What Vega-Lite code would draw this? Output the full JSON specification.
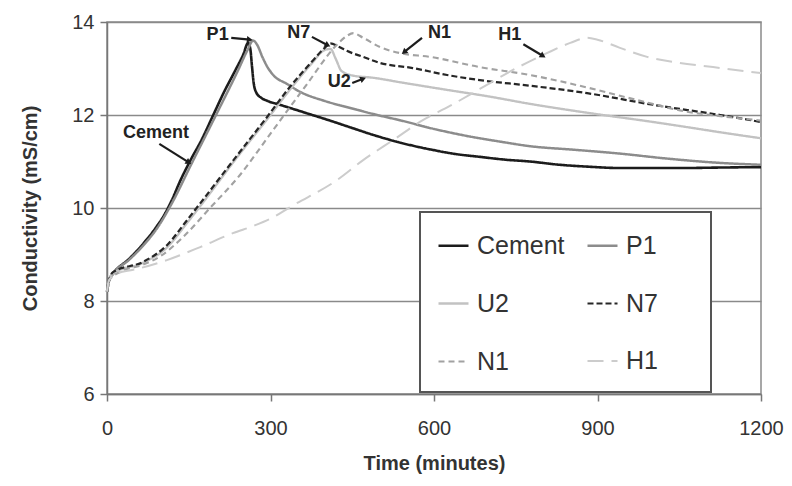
{
  "$schema": "https://vega.github.io/schema/vega-lite/v6.json",
  "width": 654,
  "height": 372,
  "autosize": {"type": "none"},
  "padding": {"left": 107, "top": 22, "right": 31, "bottom": 92},
  "background": "white",
  "config": {
    "font": "Liberation Sans",
    "view": {"stroke": "#8a8a8a", "strokeWidth": 1.5},
    "axis": {
      "labelFont": "Liberation Sans",
      "titleFont": "Liberation Sans",
      "labelFontSize": 20,
      "titleFontSize": 20,
      "labelColor": "#333",
      "titleColor": "#333",
      "domainColor": "#777",
      "domainWidth": 1.5,
      "tickColor": "#777",
      "tickWidth": 1.5,
      "tickSize": 7
    },
    "legend": {
      "labelFont": "Liberation Sans",
      "labelFontSize": 25,
      "labelColor": "#333",
      "strokeColor": "#555",
      "strokeWidth": 2,
      "fillColor": "white"
    }
  },
  "datasets": {
    "series": [
      {"series": "Cement", "t": 0, "v": 8.2}, {"series": "Cement", "t": 4, "v": 8.45}, {"series": "Cement", "t": 12, "v": 8.6}, {"series": "Cement", "t": 40, "v": 8.9}, {"series": "Cement", "t": 67, "v": 9.24}, {"series": "Cement", "t": 91, "v": 9.6}, {"series": "Cement", "t": 105, "v": 9.85}, {"series": "Cement", "t": 119, "v": 10.17}, {"series": "Cement", "t": 135, "v": 10.6}, {"series": "Cement", "t": 152, "v": 11.0}, {"series": "Cement", "t": 175, "v": 11.5}, {"series": "Cement", "t": 195, "v": 12.0}, {"series": "Cement", "t": 215, "v": 12.5}, {"series": "Cement", "t": 235, "v": 12.95}, {"series": "Cement", "t": 250, "v": 13.3}, {"series": "Cement", "t": 259, "v": 13.55}, {"series": "Cement", "t": 263, "v": 13.42}, {"series": "Cement", "t": 266, "v": 13.05}, {"series": "Cement", "t": 269, "v": 12.7}, {"series": "Cement", "t": 274, "v": 12.48}, {"series": "Cement", "t": 283, "v": 12.37}, {"series": "Cement", "t": 295, "v": 12.3}, {"series": "Cement", "t": 317, "v": 12.22}, {"series": "Cement", "t": 366, "v": 12.04}, {"series": "Cement", "t": 409, "v": 11.88}, {"series": "Cement", "t": 450, "v": 11.72}, {"series": "Cement", "t": 489, "v": 11.57}, {"series": "Cement", "t": 540, "v": 11.4}, {"series": "Cement", "t": 593, "v": 11.26}, {"series": "Cement", "t": 640, "v": 11.16}, {"series": "Cement", "t": 684, "v": 11.1}, {"series": "Cement", "t": 730, "v": 11.04}, {"series": "Cement", "t": 776, "v": 11.0}, {"series": "Cement", "t": 830, "v": 10.93}, {"series": "Cement", "t": 881, "v": 10.89}, {"series": "Cement", "t": 940, "v": 10.86}, {"series": "Cement", "t": 1002, "v": 10.86}, {"series": "Cement", "t": 1060, "v": 10.86}, {"series": "Cement", "t": 1125, "v": 10.87}, {"series": "Cement", "t": 1200, "v": 10.88},

      {"series": "P1", "t": 0, "v": 8.2}, {"series": "P1", "t": 4, "v": 8.45}, {"series": "P1", "t": 12, "v": 8.6}, {"series": "P1", "t": 40, "v": 8.88}, {"series": "P1", "t": 67, "v": 9.2}, {"series": "P1", "t": 91, "v": 9.55}, {"series": "P1", "t": 119, "v": 10.1}, {"series": "P1", "t": 155, "v": 10.95}, {"series": "P1", "t": 200, "v": 12.0}, {"series": "P1", "t": 240, "v": 12.95}, {"series": "P1", "t": 258, "v": 13.4}, {"series": "P1", "t": 268, "v": 13.6}, {"series": "P1", "t": 276, "v": 13.5}, {"series": "P1", "t": 285, "v": 13.25}, {"series": "P1", "t": 295, "v": 13.02}, {"series": "P1", "t": 305, "v": 12.86}, {"series": "P1", "t": 330, "v": 12.67}, {"series": "P1", "t": 354, "v": 12.5}, {"series": "P1", "t": 400, "v": 12.3}, {"series": "P1", "t": 450, "v": 12.14}, {"series": "P1", "t": 489, "v": 12.02}, {"series": "P1", "t": 540, "v": 11.88}, {"series": "P1", "t": 600, "v": 11.7}, {"series": "P1", "t": 660, "v": 11.55}, {"series": "P1", "t": 720, "v": 11.43}, {"series": "P1", "t": 776, "v": 11.33}, {"series": "P1", "t": 860, "v": 11.25}, {"series": "P1", "t": 941, "v": 11.17}, {"series": "P1", "t": 1030, "v": 11.06}, {"series": "P1", "t": 1125, "v": 10.97}, {"series": "P1", "t": 1200, "v": 10.93},

      {"series": "U2", "t": 0, "v": 8.2}, {"series": "U2", "t": 4, "v": 8.45}, {"series": "U2", "t": 12, "v": 8.6}, {"series": "U2", "t": 66, "v": 8.82}, {"series": "U2", "t": 110, "v": 9.15}, {"series": "U2", "t": 147, "v": 9.68}, {"series": "U2", "t": 171, "v": 10.04}, {"series": "U2", "t": 244, "v": 11.17}, {"series": "U2", "t": 290, "v": 11.85}, {"series": "U2", "t": 336, "v": 12.55}, {"series": "U2", "t": 375, "v": 13.1}, {"series": "U2", "t": 400, "v": 13.4}, {"series": "U2", "t": 410, "v": 13.42}, {"series": "U2", "t": 420, "v": 13.2}, {"series": "U2", "t": 430, "v": 12.95}, {"series": "U2", "t": 450, "v": 12.85}, {"series": "U2", "t": 489, "v": 12.8}, {"series": "U2", "t": 540, "v": 12.7}, {"series": "U2", "t": 624, "v": 12.54}, {"series": "U2", "t": 700, "v": 12.4}, {"series": "U2", "t": 776, "v": 12.24}, {"series": "U2", "t": 840, "v": 12.12}, {"series": "U2", "t": 910, "v": 12.0}, {"series": "U2", "t": 990, "v": 11.87}, {"series": "U2", "t": 1064, "v": 11.74}, {"series": "U2", "t": 1130, "v": 11.62}, {"series": "U2", "t": 1200, "v": 11.5},

      {"series": "N7", "t": 0, "v": 8.2}, {"series": "N7", "t": 4, "v": 8.45}, {"series": "N7", "t": 11, "v": 8.62}, {"series": "N7", "t": 66, "v": 8.84}, {"series": "N7", "t": 110, "v": 9.2}, {"series": "N7", "t": 147, "v": 9.74}, {"series": "N7", "t": 171, "v": 10.1}, {"series": "N7", "t": 244, "v": 11.21}, {"series": "N7", "t": 290, "v": 11.9}, {"series": "N7", "t": 336, "v": 12.61}, {"series": "N7", "t": 380, "v": 13.2}, {"series": "N7", "t": 400, "v": 13.45}, {"series": "N7", "t": 410, "v": 13.54}, {"series": "N7", "t": 425, "v": 13.47}, {"series": "N7", "t": 440, "v": 13.38}, {"series": "N7", "t": 470, "v": 13.25}, {"series": "N7", "t": 501, "v": 13.12}, {"series": "N7", "t": 561, "v": 13.01}, {"series": "N7", "t": 624, "v": 12.86}, {"series": "N7", "t": 684, "v": 12.75}, {"series": "N7", "t": 776, "v": 12.63}, {"series": "N7", "t": 881, "v": 12.47}, {"series": "N7", "t": 1002, "v": 12.22}, {"series": "N7", "t": 1125, "v": 12.0}, {"series": "N7", "t": 1200, "v": 11.85},

      {"series": "N1", "t": 0, "v": 8.2}, {"series": "N1", "t": 4, "v": 8.45}, {"series": "N1", "t": 29, "v": 8.65}, {"series": "N1", "t": 66, "v": 8.78}, {"series": "N1", "t": 100, "v": 8.98}, {"series": "N1", "t": 140, "v": 9.38}, {"series": "N1", "t": 189, "v": 10.0}, {"series": "N1", "t": 244, "v": 10.71}, {"series": "N1", "t": 300, "v": 11.6}, {"series": "N1", "t": 366, "v": 12.65}, {"series": "N1", "t": 421, "v": 13.5}, {"series": "N1", "t": 440, "v": 13.7}, {"series": "N1", "t": 452, "v": 13.76}, {"series": "N1", "t": 470, "v": 13.66}, {"series": "N1", "t": 501, "v": 13.46}, {"series": "N1", "t": 538, "v": 13.33}, {"series": "N1", "t": 593, "v": 13.25}, {"series": "N1", "t": 684, "v": 13.03}, {"series": "N1", "t": 776, "v": 12.86}, {"series": "N1", "t": 899, "v": 12.54}, {"series": "N1", "t": 980, "v": 12.3}, {"series": "N1", "t": 1064, "v": 12.07}, {"series": "N1", "t": 1130, "v": 11.97}, {"series": "N1", "t": 1200, "v": 11.88},

      {"series": "H1", "t": 0, "v": 8.2}, {"series": "H1", "t": 4, "v": 8.45}, {"series": "H1", "t": 20, "v": 8.6}, {"series": "H1", "t": 48, "v": 8.67}, {"series": "H1", "t": 110, "v": 8.88}, {"series": "H1", "t": 171, "v": 9.16}, {"series": "H1", "t": 231, "v": 9.46}, {"series": "H1", "t": 270, "v": 9.62}, {"series": "H1", "t": 305, "v": 9.8}, {"series": "H1", "t": 336, "v": 10.02}, {"series": "H1", "t": 422, "v": 10.6}, {"series": "H1", "t": 470, "v": 11.03}, {"series": "H1", "t": 530, "v": 11.5}, {"series": "H1", "t": 574, "v": 11.85}, {"series": "H1", "t": 630, "v": 12.2}, {"series": "H1", "t": 684, "v": 12.56}, {"series": "H1", "t": 750, "v": 13.0}, {"series": "H1", "t": 807, "v": 13.33}, {"series": "H1", "t": 850, "v": 13.55}, {"series": "H1", "t": 881, "v": 13.66}, {"series": "H1", "t": 900, "v": 13.62}, {"series": "H1", "t": 940, "v": 13.45}, {"series": "H1", "t": 991, "v": 13.25}, {"series": "H1", "t": 1050, "v": 13.12}, {"series": "H1", "t": 1112, "v": 13.03}, {"series": "H1", "t": 1200, "v": 12.9}
    ],
    "notes": [
      {"label": "P1", "tx": 203, "ty": 13.72, "t": 228, "v": 13.66, "t2": 262, "v2": 13.62},
      {"label": "N7", "tx": 352, "ty": 13.76, "t": 376, "v": 13.68, "t2": 405, "v2": 13.5},
      {"label": "N1", "tx": 610, "ty": 13.76, "t": 578, "v": 13.66, "t2": 545, "v2": 13.35},
      {"label": "U2", "tx": 426, "ty": 12.71, "t": 450, "v": 12.69, "t2": 470, "v2": 12.78},
      {"label": "H1", "tx": 739, "ty": 13.72, "t": 764, "v": 13.52, "t2": 800, "v2": 13.27},
      {"label": "Cement", "tx": 90, "ty": 11.61, "t": 96, "v": 11.38, "t2": 150, "v2": 10.98}
    ]
  },
  "layer": [
    {
      "data": {"name": "series"},
      "mark": {"type": "line", "interpolate": "monotone", "strokeCap": "butt"},
      "encoding": {
        "x": {"field": "t", "type": "quantitative", "scale": {"domain": [0, 1200], "nice": false},
          "axis": {"values": [0, 300, 600, 900, 1200], "format": "d", "title": "Time (minutes)", "grid": false, "labelPadding": 17, "titlePadding": 15, "labelFlush": false}},
        "y": {"field": "v", "type": "quantitative", "scale": {"domain": [6, 14], "nice": false, "zero": false},
          "axis": {"values": [6, 8, 10, 12, 14], "title": "Conductivity (mS/cm)", "grid": true, "gridColor": "#8a8a8a", "gridWidth": 1.5, "labelPadding": 6, "titlePadding": 31}},
        "color": {"field": "series", "type": "nominal",
          "scale": {"domain": ["Cement", "P1", "U2", "N7", "N1", "H1"], "range": ["#1c1c1c", "#8c8c8c", "#c2c2c2", "#262626", "#a2a2a2", "#cccccc"]},
          "legend": {"title": null, "orient": "none", "legendX": 313, "legendY": 190, "columns": 2, "symbolType": "stroke", "symbolSize": 900, "columnPadding": 17, "rowPadding": 28, "padding": 17, "labelOffset": 7, "direction": "horizontal",
            "labelExpr": "(datum.label == 'P1' || datum.label == 'N7' || datum.label == 'H1') ? datum.label + '\u2800\u2800' : datum.label"}},
        "strokeDash": {"field": "series", "type": "nominal",
          "scale": {"domain": ["Cement", "P1", "U2", "N7", "N1", "H1"], "range": [[1, 0], [1, 0], [1, 0], [6, 3], [6, 4], [16, 8]]}},
        "strokeWidth": {"field": "series", "type": "nominal",
          "scale": {"domain": ["Cement", "P1", "U2", "N7", "N1", "H1"], "range": [2.6, 2, 2, 2.6, 2, 2]}},
        "order": {"field": "t", "type": "quantitative"}
      }
    },
    {
      "data": {"name": "notes"},
      "mark": {"type": "rule", "color": "#1c1c1c", "strokeWidth": 2.2},
      "encoding": {
        "x": {"field": "t", "type": "quantitative"},
        "y": {"field": "v", "type": "quantitative"},
        "x2": {"field": "t2"},
        "y2": {"field": "v2"}
      }
    },
    {
      "data": {"name": "notes"},
      "transform": [
        {"calculate": "atan2((datum.t2 - datum.t) * 0.545, (datum.v2 - datum.v) * 46.5) * 180 / PI", "as": "ang"}
      ],
      "mark": {"type": "point", "shape": "triangle-up", "filled": true, "color": "#1c1c1c", "size": 45, "opacity": 1},
      "encoding": {
        "x": {"field": "t2", "type": "quantitative"},
        "y": {"field": "v2", "type": "quantitative"},
        "angle": {"field": "ang", "type": "quantitative", "scale": null}
      }
    },
    {
      "data": {"name": "notes"},
      "mark": {"type": "text", "font": "Liberation Sans", "fontWeight": "bold", "fontSize": 18, "color": "#222", "align": "center", "baseline": "middle"},
      "encoding": {
        "x": {"field": "tx", "type": "quantitative"},
        "y": {"field": "ty", "type": "quantitative"},
        "text": {"field": "label"}
      }
    }
  ]
}
